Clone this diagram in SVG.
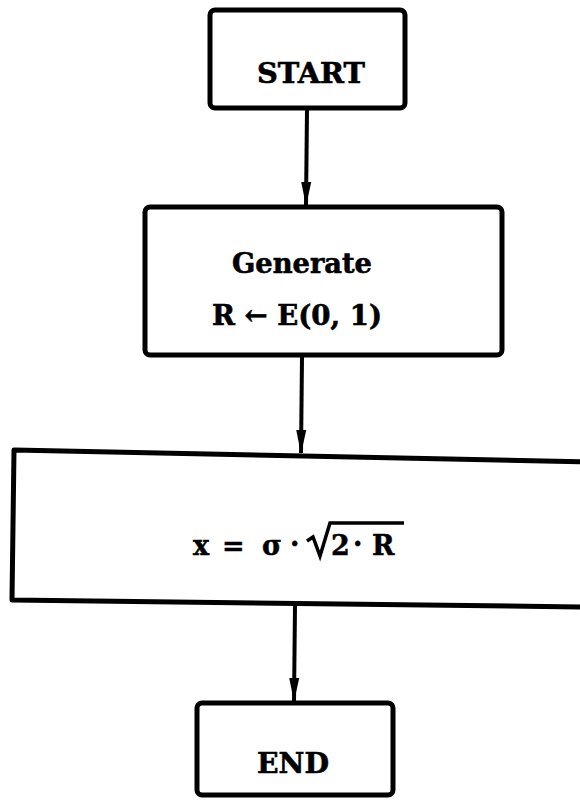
<svg xmlns="http://www.w3.org/2000/svg" width="580" height="803" viewBox="0 0 580 803">
<style>
.box{fill:#fff;stroke:#000;stroke-width:5;stroke-linejoin:round}
.lbl{font-family:"DejaVu Serif","Liberation Serif",serif;font-weight:bold;font-size:28px;fill:#000;stroke:#000;stroke-width:0.6;text-anchor:middle}
.edge{stroke:#000;stroke-width:4;fill:none}
.math{font-family:"DejaVu Serif","Liberation Serif",serif;font-weight:bold;font-size:27px;fill:#000;stroke:#000;stroke-width:0.5}
</style>
<defs>
<marker id="ah" markerUnits="userSpaceOnUse" markerWidth="24" markerHeight="12" refX="23" refY="6" orient="auto" viewBox="0 0 24 12">
<path d="M0,1 L24,6 L0,11 Z" fill="#000"/>
</marker>
</defs>
<rect width="580" height="803" fill="#fff"/>
<g id="connectors">
<path class="edge" d="M307,110 L306,205" marker-end="url(#ah)"/>
<path class="edge" d="M302,357 L301,453" marker-end="url(#ah)"/>
<path class="edge" d="M295,605 L294,701" marker-end="url(#ah)"/>
</g>
<g id="start">
<rect class="box" x="210" y="10" width="195" height="98" rx="5"/>
<text class="lbl" x="311" y="83" textLength="108" lengthAdjust="spacingAndGlyphs">START</text>
</g>
<g id="generate">
<rect class="box" x="145" y="207" width="357" height="148" rx="5"/>
<text class="lbl" x="302" y="273" textLength="140" lengthAdjust="spacingAndGlyphs">Generate</text>
<text class="lbl" x="297" y="325" textLength="170" lengthAdjust="spacingAndGlyphs">R ← E(0, 1)</text>
</g>
<g id="formula">
<path class="box" d="M590,462 L14,450 L12,600 L590,607"/>
<text class="math" x="193" y="555">x</text>
<text class="math" x="222" y="555">=</text>
<text class="math" x="262" y="555">σ</text>
<text class="math" x="290" y="553">·</text>
<path d="M307,541 L313,537 L320,556 L330,523 L404,523" fill="none" stroke="#000" stroke-width="3.5"/>
<text class="math" x="331" y="555">2</text>
<text class="math" x="353" y="553">·</text>
<text class="math" x="372" y="555">R</text>
</g>
<g id="end">
<rect class="box" x="197" y="703" width="196" height="92" rx="5"/>
<text class="lbl" x="293" y="773" textLength="72" lengthAdjust="spacingAndGlyphs">END</text>
</g>
</svg>
